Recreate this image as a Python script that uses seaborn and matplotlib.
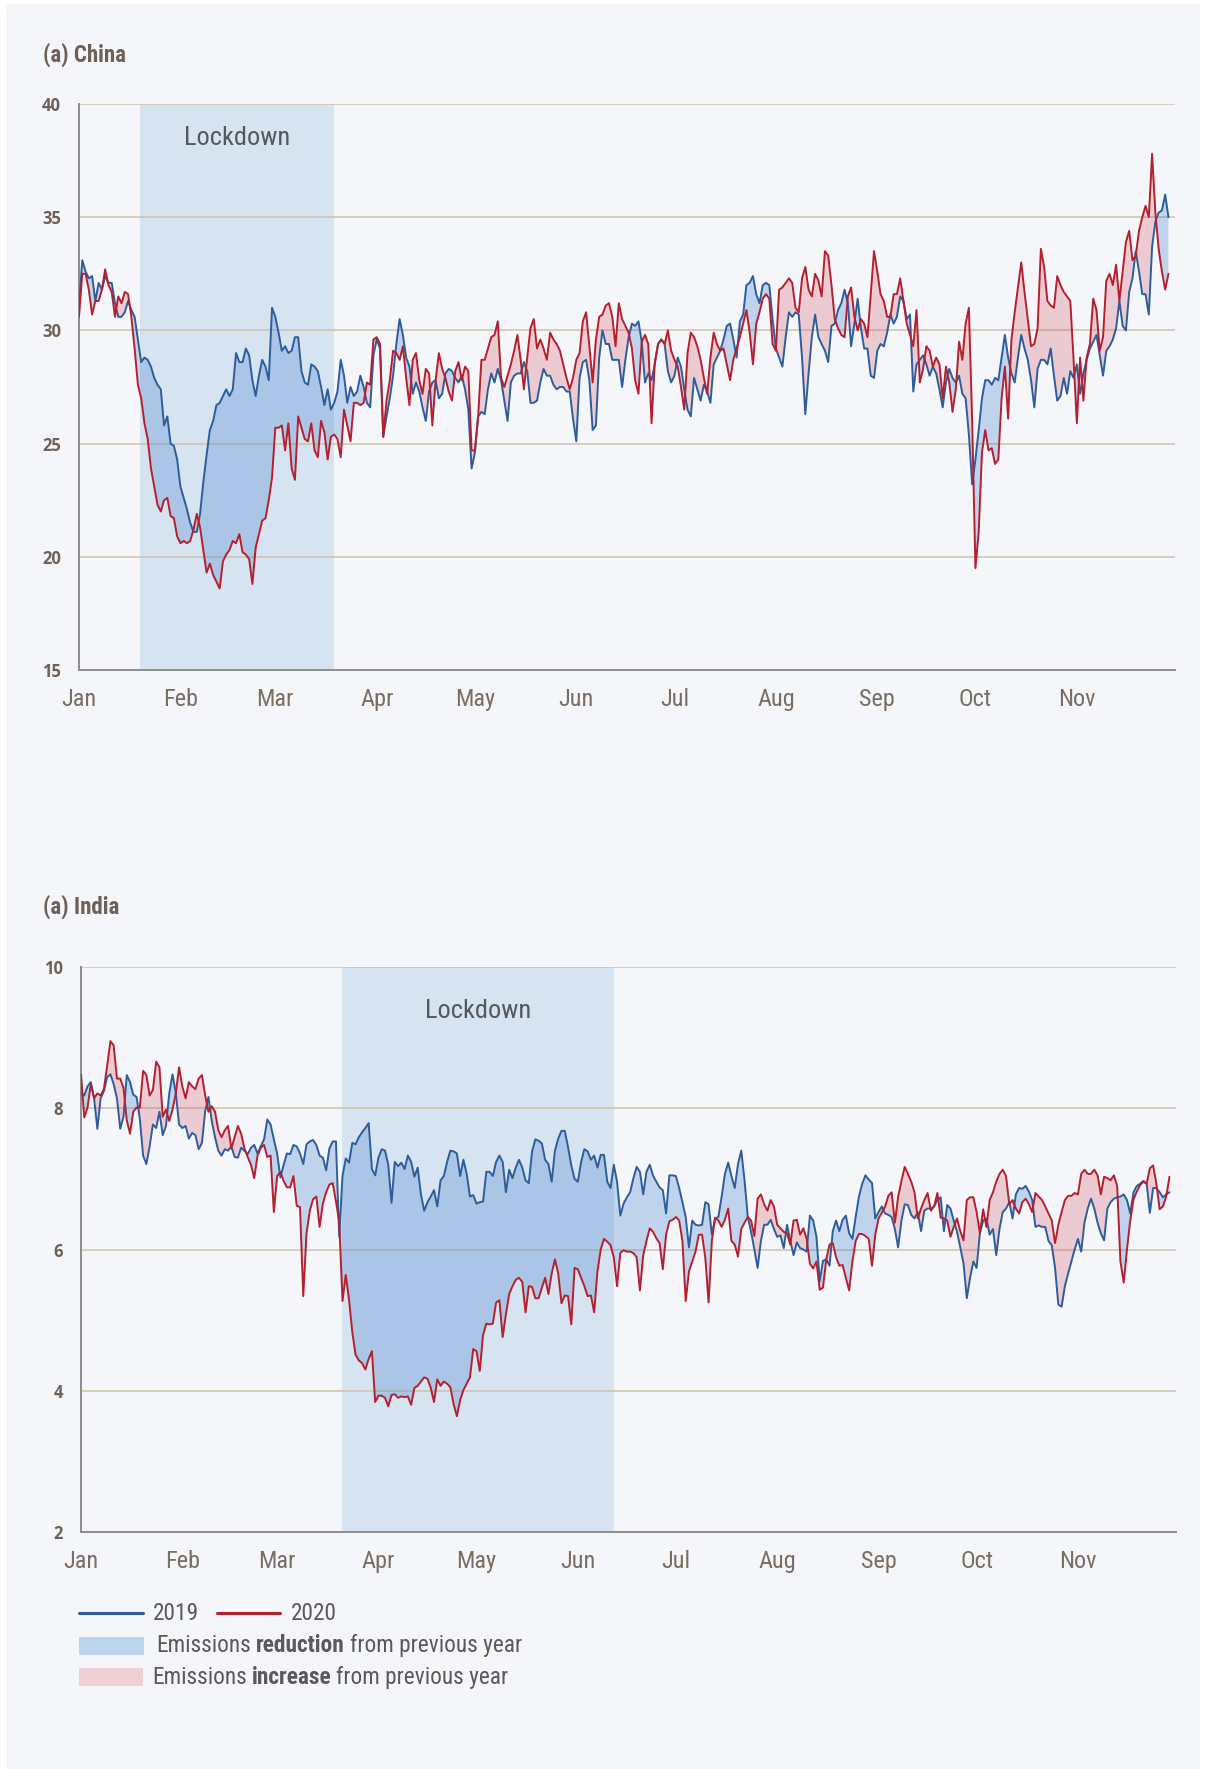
import seaborn as sns
import matplotlib.pyplot as plt
import pandas as pd
import numpy as np
from matplotlib import font_manager
from matplotlib.patches import Rectangle
from matplotlib.lines import Line2D

# Daily emissions, 1 Jan - 29 Nov
china_2019 = [
    31.1, 33.1, 32.6, 32.3, 32.4, 31.3, 32.1, 31.8, 32.4, 32.1,
    32.1, 31.2, 30.6, 30.6, 30.8, 31.3, 30.9, 30.6, 29.6, 28.6,
    28.8, 28.7, 28.4, 27.9, 27.6, 27.4, 25.8, 26.2, 25.0, 24.9,
    24.3, 23.1, 22.6, 22.1, 21.5, 21.1, 21.1, 21.9, 23.3, 24.5,
    25.6, 26.0, 26.7, 26.8, 27.1, 27.4, 27.1, 27.4, 29.0, 28.6,
    28.6, 29.2, 28.9, 27.8, 27.1, 28.0, 28.7, 28.4, 27.8, 31.0,
    30.6, 29.9, 29.1, 29.3, 29.0, 29.1, 29.7, 29.7, 28.2, 27.7,
    27.6, 28.5, 28.4, 28.2, 27.5, 26.7, 27.4, 26.5, 26.8, 27.3,
    28.7, 28.0, 26.8, 27.5, 27.1, 27.3, 28.0, 27.5, 26.8, 26.6,
    28.9, 29.6, 29.2, 25.3, 26.2, 27.0, 28.0, 29.4, 30.5, 29.8,
    28.8, 28.4, 27.2, 27.7, 27.3, 26.6, 26.0, 27.3, 27.7, 27.8,
    27.0, 27.2, 28.1, 28.3, 28.2, 27.9, 27.7, 28.0, 27.4, 26.5,
    23.9, 24.6, 26.2, 26.4, 26.3, 27.4, 28.1, 27.7, 28.3, 27.8,
    26.9, 26.0, 27.7, 28.0, 28.1, 28.1, 28.6, 28.2, 26.8, 26.8,
    26.9, 27.7, 28.3, 28.0, 28.0, 27.6, 27.4, 27.5, 27.5, 27.3,
    27.3, 26.1, 25.1, 27.9, 28.6, 28.7, 27.8, 25.6, 25.8, 28.8,
    30.0, 29.4, 29.4, 28.7, 28.7, 28.7, 27.5, 28.7, 29.7, 30.3,
    30.2, 30.4, 29.5, 27.7, 28.1, 27.8, 28.5, 29.4, 29.6, 29.4,
    28.2, 27.7, 28.0, 28.8, 28.4, 27.4, 26.5, 26.2, 27.9, 27.4,
    26.9, 27.6, 27.3, 26.8, 28.5, 28.8, 29.1, 29.6, 30.2, 30.3,
    29.6, 28.8, 30.4, 30.7, 32.0, 32.1, 32.4, 31.6, 31.2, 32.0,
    32.1, 32.0, 30.5, 29.2, 28.8, 28.4, 29.7, 30.8, 30.6, 30.8,
    30.7, 28.8, 26.3, 28.1, 29.7, 30.7, 29.7, 29.4, 29.1, 28.6,
    30.2, 30.3, 30.9, 31.2, 31.8, 31.2, 29.3, 30.3, 31.4, 30.1,
    29.2, 29.2, 28.0, 27.9, 29.1, 29.4, 29.3, 29.9, 30.7, 30.3,
    30.6, 31.5, 31.3, 30.5, 30.7, 27.3, 28.5, 28.7, 28.9, 28.5,
    28.0, 28.4, 28.1, 27.4, 26.6, 27.7, 28.3, 27.9, 27.7, 28.0,
    27.2, 27.0, 25.4, 23.2, 24.3, 25.6, 27.0, 27.8, 27.8, 27.6,
    27.9, 27.8, 28.8, 29.8, 28.8, 28.1, 27.7, 28.8, 29.8, 29.2,
    28.7, 27.8, 26.6, 28.3, 28.7, 28.7, 28.5, 29.2, 28.0, 26.9,
    27.1, 27.9, 27.2, 28.2, 27.9, 28.5, 27.2, 28.1, 28.7, 29.2,
    29.5, 29.8, 28.9, 28.0, 29.1, 29.3, 29.6, 30.1, 31.3, 30.2,
    30.0, 31.7, 32.3, 33.5, 32.6, 31.6, 31.6, 30.7, 33.7, 34.8,
    35.2, 35.3, 36.0, 35.0,
]
china_2020 = [
    30.6, 32.5, 32.5, 31.8, 30.7, 31.3, 31.3, 31.8, 32.7, 32.0,
    31.7, 30.6, 31.5, 31.2, 31.7, 31.6, 30.6, 29.2, 27.6, 27.0,
    25.9, 25.2, 23.9, 23.1, 22.3, 22.0, 22.5, 22.6, 21.8, 21.7,
    20.9, 20.6, 20.7, 20.6, 20.7, 21.2, 21.9, 21.3, 20.3, 19.3,
    19.7, 19.2, 18.9, 18.6, 19.8, 20.1, 20.3, 20.7, 20.6, 21.0,
    20.2, 20.1, 19.9, 18.8, 20.4, 21.0, 21.6, 21.7, 22.5, 23.5,
    25.7, 25.7, 25.8, 24.7, 25.9, 23.9, 23.4, 26.2, 25.7, 25.2,
    25.1, 25.9, 24.7, 24.4, 26.0, 25.5, 24.3, 25.3, 25.4, 25.2,
    24.4, 26.5, 25.8, 25.1, 26.8, 26.8, 26.7, 26.8, 27.7, 27.6,
    29.6, 29.7, 29.4, 25.3, 26.9, 27.8, 29.1, 29.0, 28.7, 29.3,
    27.9, 26.7, 28.7, 29.0, 27.8, 27.2, 28.3, 28.1, 25.8, 27.8,
    29.0, 28.3, 27.9, 27.3, 26.9, 28.2, 28.6, 27.8, 28.4, 28.2,
    24.7, 24.7, 26.2, 28.7, 28.7, 29.2, 29.7, 29.8, 30.4, 27.9,
    27.5, 28.0, 28.5, 29.1, 29.8, 28.7, 27.4, 28.8, 30.1, 30.5,
    29.2, 29.6, 29.2, 28.7, 29.9, 29.6, 29.4, 29.1, 28.5, 27.9,
    27.4, 27.9, 28.7, 29.0, 30.4, 30.8, 29.3, 27.7, 29.6, 30.6,
    30.7, 31.1, 31.2, 30.6, 29.3, 31.2, 30.5, 30.2, 29.9, 29.2,
    27.8, 27.2, 29.5, 29.8, 29.4, 25.9, 28.6, 29.4, 29.6, 29.4,
    30.0, 29.1, 28.7, 28.4, 27.5, 26.5, 29.0, 29.9, 29.7, 29.3,
    28.7, 27.9, 27.2, 28.8, 29.9, 29.4, 29.1, 29.2, 28.5, 27.8,
    28.7, 29.2, 29.7, 30.3, 30.9, 29.9, 28.5, 30.3, 30.8, 31.4,
    31.6, 31.4, 29.4, 29.1, 31.8, 31.9, 32.1, 32.3, 32.1, 31.0,
    30.8, 32.3, 32.8, 31.8, 31.5, 32.5, 32.2, 31.5, 33.5, 33.3,
    32.0, 30.5, 30.1, 29.8, 29.7, 31.5, 31.9, 30.6, 30.0, 30.5,
    30.3, 29.7, 31.6, 33.5, 32.6, 31.6, 31.3, 30.6, 30.6, 31.6,
    31.6, 32.3, 31.3, 30.3, 29.8, 29.3, 30.9, 27.7, 28.3, 29.3,
    29.1, 28.4, 28.8, 28.5, 27.0, 28.4, 27.7, 26.4, 27.4, 29.5,
    28.7, 30.3, 31.0, 26.0, 19.5, 21.1, 24.6, 25.6, 24.7, 24.8,
    24.1, 24.3, 27.0, 28.4, 26.1, 29.6, 30.8, 31.9, 33.0, 31.7,
    30.5, 29.3, 29.4, 30.1, 33.6, 32.8, 31.3, 31.1, 31.0, 32.4,
    32.0, 31.7, 31.5, 31.3, 28.7, 25.9, 28.8, 26.9, 28.8, 29.4,
    31.4, 30.9, 29.1, 29.7, 32.2, 32.5, 32.0, 32.9, 31.3, 32.6,
    33.9, 34.4, 33.1, 33.3, 34.4, 35.0, 35.5, 35.0, 37.8, 35.2,
    33.6, 32.6, 31.8, 32.5,
]
india_2019 = [
    8.22, 8.18, 8.31, 8.37, 8.14, 7.71, 8.14, 8.24, 8.44, 8.48,
    8.34, 8.14, 7.71, 7.88, 8.47, 8.37, 8.19, 8.16, 7.85, 7.33,
    7.21, 7.46, 7.77, 7.72, 7.95, 7.62, 7.75, 8.21, 8.48, 8.22,
    7.77, 7.72, 7.75, 7.57, 7.65, 7.62, 7.42, 7.51, 7.96, 8.16,
    7.82, 7.59, 7.40, 7.33, 7.42, 7.40, 7.46, 7.31, 7.30, 7.44,
    7.40, 7.35, 7.44, 7.48, 7.36, 7.46, 7.56, 7.84, 7.77, 7.56,
    7.36, 7.02, 7.20, 7.36, 7.35, 7.48, 7.46, 7.36, 7.21, 7.49,
    7.53, 7.55, 7.48, 7.33, 7.30, 7.12, 7.43, 7.53, 7.53, 6.18,
    7.04, 7.29, 7.23, 7.51, 7.49, 7.59, 7.66, 7.72, 7.79, 7.14,
    7.05, 7.30, 7.42, 7.40, 7.20, 6.66, 7.24, 7.18, 7.23, 7.14,
    7.33, 7.24, 7.03, 7.16, 6.78, 6.55, 6.67, 6.75, 6.84, 6.61,
    6.98, 7.04, 7.24, 7.40, 7.39, 7.36, 7.04, 7.27, 7.07, 6.75,
    6.77, 6.65, 6.67, 6.68, 7.10, 7.10, 7.04, 7.24, 7.33, 7.24,
    6.81, 7.13, 7.01, 7.16, 7.27, 7.16, 6.98, 6.94, 7.39, 7.56,
    7.54, 7.50, 7.27, 7.21, 6.96, 7.40, 7.57, 7.68, 7.68, 7.45,
    7.19, 7.00, 6.96, 7.24, 7.42, 7.39, 7.27, 7.33, 7.16, 7.34,
    7.34, 6.96, 6.87, 7.20, 6.96, 6.48, 6.65, 6.74, 6.81, 7.01,
    7.17, 7.10, 6.78, 7.10, 7.20, 7.05, 6.96, 6.88, 6.84, 6.51,
    7.05, 7.05, 7.04, 6.87, 6.67, 6.46, 6.03, 6.41, 6.35, 6.34,
    6.35, 6.67, 6.64, 6.21, 6.44, 6.46, 6.75, 7.07, 7.23, 7.04,
    6.87, 7.21, 7.40, 6.98, 6.46, 6.25, 6.00, 5.74, 6.12, 6.35,
    6.35, 6.42, 6.29, 6.18, 6.20, 6.02, 6.35, 6.12, 5.92, 6.10,
    6.02, 6.00, 5.97, 6.48, 6.41, 6.18, 5.55, 5.84, 5.86, 5.77,
    6.26, 6.41, 6.26, 6.42, 6.48, 6.23, 6.15, 6.46, 6.75, 6.93,
    7.05, 6.99, 6.94, 6.44, 6.53, 6.61, 6.51, 6.49, 6.46, 6.29,
    6.03, 6.41, 6.64, 6.63, 6.49, 6.44, 6.53, 6.26, 6.55, 6.58,
    6.58, 6.61, 6.70, 6.74, 6.26, 6.63, 6.58, 6.41, 6.25, 6.03,
    5.80, 5.31, 5.60, 5.83, 5.74, 6.23, 6.41, 6.44, 6.21, 6.29,
    5.92, 6.29, 6.53, 6.58, 6.67, 6.44, 6.78, 6.87, 6.86, 6.90,
    6.82, 6.70, 6.32, 6.34, 6.32, 6.32, 6.12, 6.06, 5.74, 5.22,
    5.19, 5.48, 5.66, 5.83, 6.00, 6.15, 5.97, 6.38, 6.58, 6.72,
    6.58, 6.38, 6.23, 6.13, 6.58, 6.67, 6.72, 6.74, 6.75, 6.78,
    6.70, 6.51, 6.81, 6.90, 6.93, 6.97, 6.94, 6.52, 6.87, 6.87,
    6.81, 6.74, 6.78, 6.81,
]
india_2020 = [
    8.48, 7.87, 8.01, 8.34, 8.14, 8.21, 8.18, 8.27, 8.60, 8.95,
    8.89, 8.42, 8.42, 8.29, 7.83, 7.64, 7.95, 8.01, 8.01, 8.53,
    8.47, 8.18, 8.26, 8.66, 8.58, 7.88, 7.98, 7.82, 7.98, 8.21,
    8.58, 8.31, 8.14, 8.37, 8.31, 8.27, 8.42, 8.47, 8.18, 7.95,
    8.03, 7.95, 7.69, 7.59, 7.69, 7.75, 7.43, 7.59, 7.75, 7.64,
    7.43, 7.31, 7.20, 7.01, 7.33, 7.44, 7.48, 7.31, 7.33, 6.53,
    7.04, 7.10, 6.97, 6.88, 6.88, 7.04, 6.62, 6.60, 5.34, 6.23,
    6.55, 6.71, 6.75, 6.32, 6.65, 6.81, 6.92, 6.94, 6.68, 6.39,
    5.27, 5.64, 5.29, 4.83, 4.51, 4.43, 4.39, 4.30, 4.45, 4.56,
    3.84, 3.93, 3.93, 3.90, 3.78, 3.94, 3.95, 3.90, 3.92, 3.91,
    3.92, 3.80, 4.04, 4.07, 4.13, 4.19, 4.17, 4.04, 3.84, 4.16,
    4.07, 4.13, 4.10, 4.05, 3.81, 3.64, 3.87, 4.01, 4.10, 4.19,
    4.59, 4.56, 4.28, 4.79, 4.95, 4.94, 4.95, 5.25, 5.28, 4.76,
    5.08, 5.37, 5.48, 5.57, 5.60, 5.54, 5.11, 5.48, 5.47, 5.31,
    5.31, 5.46, 5.60, 5.37, 5.66, 5.86, 5.66, 5.24, 5.35, 5.34,
    4.94, 5.74, 5.72, 5.60, 5.48, 5.34, 5.35, 5.11, 5.69, 6.00,
    6.15, 6.11, 6.06, 5.89, 5.48, 5.95, 5.99, 5.97, 5.97, 5.95,
    5.89, 5.42, 5.92, 6.12, 6.30, 6.25, 6.16, 6.09, 5.72, 6.21,
    6.40, 6.42, 6.46, 6.41, 6.12, 5.27, 5.69, 5.83, 5.97, 6.21,
    6.21, 5.88, 5.25, 6.12, 6.45, 6.41, 6.32, 6.42, 6.58, 6.12,
    6.07, 5.90, 6.29, 6.38, 6.46, 6.41, 6.19, 6.72, 6.78, 6.64,
    6.55, 6.70, 6.61, 6.35, 6.30, 6.25, 6.23, 6.07, 6.41, 6.42,
    6.21, 6.30, 6.15, 5.80, 5.73, 5.83, 5.43, 5.46, 5.86, 6.07,
    6.09, 5.89, 5.77, 5.78, 5.60, 5.42, 5.83, 6.12, 6.22, 6.22,
    6.19, 6.15, 5.77, 6.21, 6.44, 6.52, 6.61, 6.76, 6.81, 6.38,
    6.75, 6.97, 7.17, 7.07, 6.96, 6.81, 6.44, 6.58, 6.70, 6.80,
    6.55, 6.61, 6.80, 6.45, 6.44, 6.41, 6.18, 6.32, 6.44, 6.26,
    6.13, 6.70, 6.74, 6.74, 6.53, 6.23, 6.57, 6.32, 6.70, 6.81,
    6.96, 7.07, 7.13, 7.04, 6.64, 6.70, 6.58, 6.51, 6.67, 6.72,
    6.64, 6.53, 6.80, 6.75, 6.70, 6.61, 6.51, 6.41, 6.09, 6.35,
    6.53, 6.70, 6.76, 6.76, 6.80, 6.78, 7.07, 7.13, 7.07, 7.07,
    7.13, 7.05, 6.78, 7.03, 7.01, 6.98, 7.05, 6.90, 5.83, 5.53,
    6.00, 6.41, 6.71, 6.82, 6.91, 6.96, 6.93, 7.15, 7.19, 6.93,
    6.57, 6.61, 6.75, 7.03,
]

month_labels = ['Jan', 'Feb', 'Mar', 'Apr', 'May', 'Jun', 'Jul', 'Aug', 'Sep', 'Oct', 'Nov']
china_lockdown = ('2020-01-19 15:00', '2020-03-19')
india_lockdown = ('2020-03-21', '2020-06-12')

dates = pd.date_range('2020-01-01', periods=len(china_2019), freq='D')
assert len(china_2019) == len(china_2020) == len(india_2019) == len(india_2020) == len(dates)

# styling
sns.set_theme(style='white')
names = {f.name for f in font_manager.fontManager.ttflist}
narrow = next((n for n in ['Roboto Condensed', 'Liberation Sans Narrow'] if n in names), 'Roboto')
plt.rcParams['font.family'] = [narrow, 'DejaVu Sans']

BG = '#f4f6fa'
BLUE = '#2d5d9b'
RED = '#b5202e'
TXT = '#6e6258'

W, H = 1206, 1769
fig = plt.figure(figsize=(W / 100, H / 100), dpi=100, facecolor='white')
fig.patches.append(Rectangle((6 / W, 0), 1194 / W, 1 - 4 / H, transform=fig.transFigure,
                             facecolor=BG, edgecolor='none', zorder=-10))


def draw_panel(ax, s19, s20, ylim, yticks, lock, lock_y, title, title_y):
    s19 = np.array(s19)
    s20 = np.array(s20)
    df = pd.DataFrame({'date': dates, 'y2019': s19, 'y2020': s20})
    ax.set_facecolor(BG)
    ax.axvspan(pd.Timestamp(lock[0]), pd.Timestamp(lock[1]), color='#d6e3f0', lw=0, zorder=0)
    for y in yticks[1:]:
        ax.axhline(y, color='#cdc2ad', lw=1.1, zorder=0.5)
    ax.fill_between(dates, s19, s20, where=s20 < s19, interpolate=True,
                    color='#286ec8', alpha=0.25, lw=0, zorder=1)
    ax.fill_between(dates, s19, s20, where=s20 >= s19, interpolate=True,
                    color='#d2454f', alpha=0.24, lw=0, zorder=1)
    sns.lineplot(data=df, x='date', y='y2019', color=BLUE, lw=1.4, ax=ax, zorder=3)
    sns.lineplot(data=df, x='date', y='y2020', color=RED, lw=1.4, ax=ax, zorder=3)

    ax.set_xlim(pd.Timestamp('2020-01-01'), pd.Timestamp('2020-12-01'))
    ax.set_ylim(*ylim)
    months = pd.date_range('2020-01-01', '2020-12-01', freq='MS')
    ax.set_xticks(months)
    ax.set_xticklabels(month_labels + [''])
    ax.set_yticks(yticks)
    ax.set_yticklabels([str(v) for v in yticks])
    ax.tick_params(axis='x', direction='in', length=16, width=1.3, color='#9c9c9c',
                   pad=13, labelsize=17.5, labelcolor='#7a6d61')
    ax.tick_params(axis='y', length=0, pad=13, labelsize=12, labelcolor=TXT)
    for lab in ax.get_yticklabels():
        lab.set_fontfamily(['Open Sans', 'DejaVu Sans'])
        lab.set_fontweight('bold')
    ax.set_xlabel('')
    ax.set_ylabel('')
    for side in ['top', 'right']:
        ax.spines[side].set_visible(False)
    for side in ['left', 'bottom']:
        ax.spines[side].set_color('#8e8e8e')
        ax.spines[side].set_linewidth(1.4)
    mid = pd.Timestamp(lock[0]) + (pd.Timestamp(lock[1]) - pd.Timestamp(lock[0])) / 2
    ax.text(mid, lock_y, 'Lockdown', ha='center', va='center', fontsize=19,
            color='#55585c', zorder=4)
    fig.text(43 / W, 1 - title_y / H, title, ha='left', va='center', fontsize=16.5,
             fontweight='bold', color=TXT)


ax1 = fig.add_axes([79 / W, 1 - 670 / H, 1096 / W, 566 / H])
draw_panel(ax1, china_2019, china_2020, (15, 40), [15, 20, 25, 30, 35, 40],
           china_lockdown, 38.5, '(a) China', 55)

ax2 = fig.add_axes([81 / W, 1 - 1532 / H, 1095 / W, 565 / H])
draw_panel(ax2, india_2019, india_2020, (2, 10), [2, 4, 6, 8, 10],
           india_lockdown, 9.38, '(a) India', 907)

# legend drawn by hand (mixed bold text)
LEG = 16.8
fig.lines.append(Line2D([79 / W, 143 / W], [1 - 1613 / H] * 2, color=BLUE, lw=2.2,
                        transform=fig.transFigure))
fig.text(153 / W, 1 - 1613 / H, '2019', ha='left', va='center', fontsize=LEG, color='#5a5a5a')
fig.lines.append(Line2D([217 / W, 280 / W], [1 - 1613 / H] * 2, color=RED, lw=2.2,
                        transform=fig.transFigure))
fig.text(291 / W, 1 - 1613 / H, '2020', ha='left', va='center', fontsize=LEG, color='#5a5a5a')

fig.patches.append(Rectangle((79 / W, 1 - 1655 / H), 65 / W, 18 / H, transform=fig.transFigure,
                             facecolor='#bdd5ec', edgecolor='none'))
fig.patches.append(Rectangle((79 / W, 1 - 1686 / H), 64 / W, 18 / H, transform=fig.transFigure,
                             facecolor='#efd0d3', edgecolor='none'))

renderer = fig.canvas.get_renderer()


def rich_text(x_px, y_px, parts):
    x = x_px
    for txt, weight in parts:
        t = fig.text(x / W, 1 - y_px / H, txt, ha='left', va='center', fontsize=LEG,
                     fontweight=weight, color='#5a5a5a')
        bb = t.get_window_extent(renderer)
        x = bb.x1 + 5


rich_text(156, 1645, [('Emissions', 'normal'), ('reduction', 'bold'), ('from previous year', 'normal')])
rich_text(152, 1677, [('Emissions', 'normal'), ('increase', 'bold'), ('from previous year', 'normal')])

fig.savefig('out.png', dpi=100, facecolor=fig.get_facecolor())
